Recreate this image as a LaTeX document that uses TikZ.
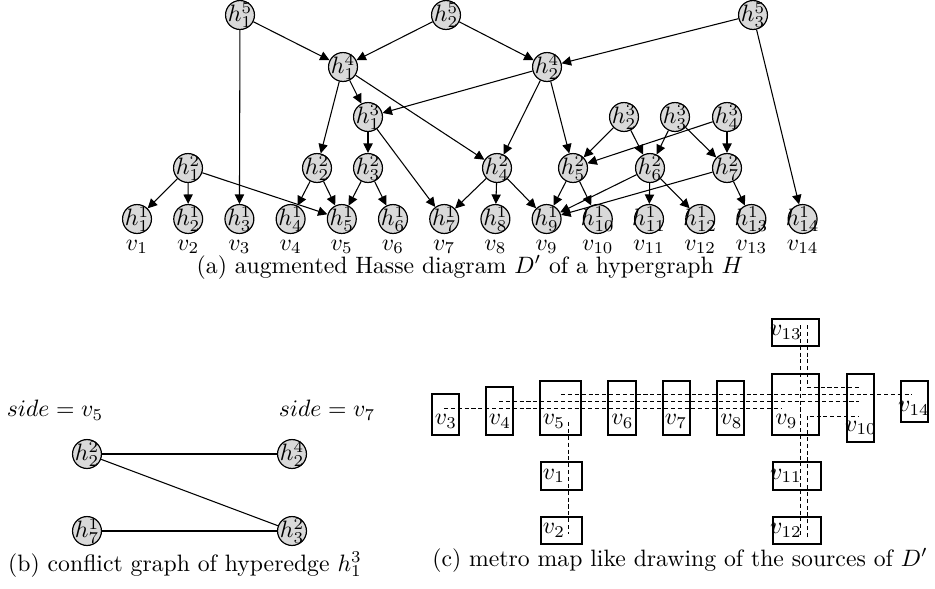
\documentclass[tikz,border=0pt]{standalone}
\usetikzlibrary{arrows.meta}
\newcommand\hlab[2]{\makebox[0pt]{$h_{#1}^{#2}$}}
\begin{document}
\begin{tikzpicture}[x=0.422pt,y=-0.422pt,
 hn/.style={circle,draw,fill=black!15,inner sep=0pt,minimum size=12.2pt,line width=0.5pt},
 ar/.style={-{Triangle[length=4pt,width=3.9pt]},line width=0.45pt},
 ln/.style={line width=0.45pt},
 vl/.style={inner sep=0pt},
 stbox/.style={draw,line width=0.7pt,inner sep=0pt},
 metro/.style={line width=0.4pt,dash pattern=on 1.7pt off 1.2pt},
 captxt/.style={anchor=base,inner sep=0pt}]
\useasboundingbox (0,0) rectangle (935,588);
% ---------- (a) ----------
\node[hn] (h51) at (240,15) {\hlab{1}{5}};
\node[hn] (h52) at (446,15) {\hlab{2}{5}};
\node[hn] (h53) at (753,15) {\hlab{3}{5}};
\node[hn] (h41) at (343,67) {\hlab{1}{4}};
\node[hn] (h42) at (547,67) {\hlab{2}{4}};
\node[hn] (h31) at (368,117) {\hlab{1}{3}};
\node[hn] (h32) at (624,117) {\hlab{2}{3}};
\node[hn] (h33) at (675,117) {\hlab{3}{3}};
\node[hn] (h34) at (727,117) {\hlab{4}{3}};
\node[hn] (h21) at (188,168) {\hlab{1}{2}};
\node[hn] (h22) at (317,168) {\hlab{2}{2}};
\node[hn] (h23) at (368,168) {\hlab{3}{2}};
\node[hn] (h24) at (497,168) {\hlab{4}{2}};
\node[hn] (h25) at (573,168) {\hlab{5}{2}};
\node[hn] (h26) at (650,168) {\hlab{6}{2}};
\node[hn] (h27) at (727,168) {\hlab{7}{2}};
\foreach \i in {1,...,14} {
  \pgfmathsetmacro\xx{137+51.2*(\i-1)}
  \node[hn] (l\i) at (\xx,219) {\hlab{\i}{1}};
  \node[vl] (vl\i) at (\xx,247) {$v_{\i}$};
}
\foreach \a/\b in {h51/h41,h51/l3,h52/h41,h52/h42,h53/h42,h53/l14,
  h41/h22,h41/h31,h41/h24,h42/h31,h42/h24,h42/h25,
  h31/h23,h31/l7,h32/h25,h32/h26,h33/h26,h33/h27,h34/h25,h34/h27,
  h21/l1,h21/l2,h21/l5,h22/l4,h22/l5,h23/l5,h23/l6,
  h24/l7,h24/l8,h24/l9,h25/l9,h25/l10,h26/l9,h26/l11,h26/l12,h27/l9,h27/l13}
  \draw[ar] (\a) -- (\b);
\node[captxt] (capa) at (470,273) {(a) augmented Hasse diagram $D'$ of a hypergraph $H$};
% ---------- (b) ----------
\node[vl] (sa) at (55,410) {$side = v_5$};
\node[vl] (sb) at (327,410) {$side = v_7$};
\node[hn] (b22) at (87,454) {\hlab{2}{2}};
\node[hn] (b42) at (292,454) {\hlab{2}{4}};
\node[hn] (b17) at (87,531) {\hlab{7}{1}};
\node[hn] (b32) at (292,531) {\hlab{3}{2}};
\draw[ln] (b22) -- (b42);
\draw[ln] (b22) -- (b32);
\draw[ln] (b17) -- (b32);
\node[captxt] (capb) at (185,571) {(b) conflict graph of hyperedge $h_1^3$};
% ---------- (c) ----------
\newcommand\stationbox[5]{\node[stbox,minimum width=#4*0.422pt,minimum height=#5*0.422pt] (#1) at (#2,#3) {};}
\stationbox{s3}{445.5}{414.5}{27}{41}
\stationbox{s4}{499.5}{411}{27}{48}
\stationbox{s5}{560.5}{408}{41}{54}
\stationbox{s6}{622}{408}{28}{54}
\stationbox{s7}{676.5}{408}{27}{54}
\stationbox{s8}{730.5}{408}{27}{54}
\stationbox{s9}{795.5}{404.5}{47}{61}
\stationbox{s10}{860.5}{408}{27}{68}
\stationbox{s14}{914.5}{401.5}{27}{41}
\stationbox{s13}{795.5}{332.5}{47}{27}
\stationbox{s1}{561.5}{476}{41}{28}
\stationbox{s2}{561.5}{530.5}{41}{27}
\stationbox{s11}{797}{476}{48}{28}
\stationbox{s12}{797}{530.5}{48}{27}
\node[vl] (t3) at (446,421.5) {$v_3$};
\node[vl] (t4) at (500,421.5) {$v_4$};
\node[vl] (t5) at (554,421.5) {$v_5$};
\node[vl] (t6) at (622.5,421.5) {$v_6$};
\node[vl] (t7) at (676,421.5) {$v_7$};
\node[vl] (t8) at (731.5,421.5) {$v_8$};
\node[vl] (t9) at (786.5,421.5) {$v_9$};
\node[vl] (t10) at (861,428) {$v_{10}$};
\node[vl] (t14) at (914,408.5) {$v_{14}$};
\node[vl] (t13) at (786,332.5) {$v_{13}$};
\node[vl] (t1) at (554,476) {$v_1$};
\node[vl] (t2) at (554,530.5) {$v_2$};
\node[vl] (t11) at (786,476) {$v_{11}$};
\node[vl] (t12) at (786,530.5) {$v_{12}$};
% metro lines
\coordinate (m1a) at (444,408); \coordinate (m1b) at (781,408);
\coordinate (m2a) at (499,401); \coordinate (m2b) at (859,401);
\coordinate (m3a) at (561,394); \coordinate (m3b) at (912,394);
\coordinate (m4a) at (807,325); \coordinate (m4b) at (807,387); \coordinate (m4c) at (859,387);
\coordinate (m5a) at (807,537); \coordinate (m5b) at (807,416); \coordinate (m5c) at (859,416);
\coordinate (m6a) at (800,325); \coordinate (m6b) at (800,537);
\coordinate (m7a) at (568,422); \coordinate (m7b) at (568,534);
\draw[metro] (m1a) -- (m1b);
\draw[metro] (m2a) -- (m2b);
\draw[metro] (m3a) -- (m3b);
\draw[metro] (m4a) -- (m4b) -- (m4c);
\draw[metro] (m5a) -- (m5b) -- (m5c);
\draw[metro] (m6a) -- (m6b);
\draw[metro] (m7a) -- (m7b);
\node[captxt] (capc) at (680,566) {(c) metro map like drawing of the sources of $D'$};
\end{tikzpicture}
\end{document}
